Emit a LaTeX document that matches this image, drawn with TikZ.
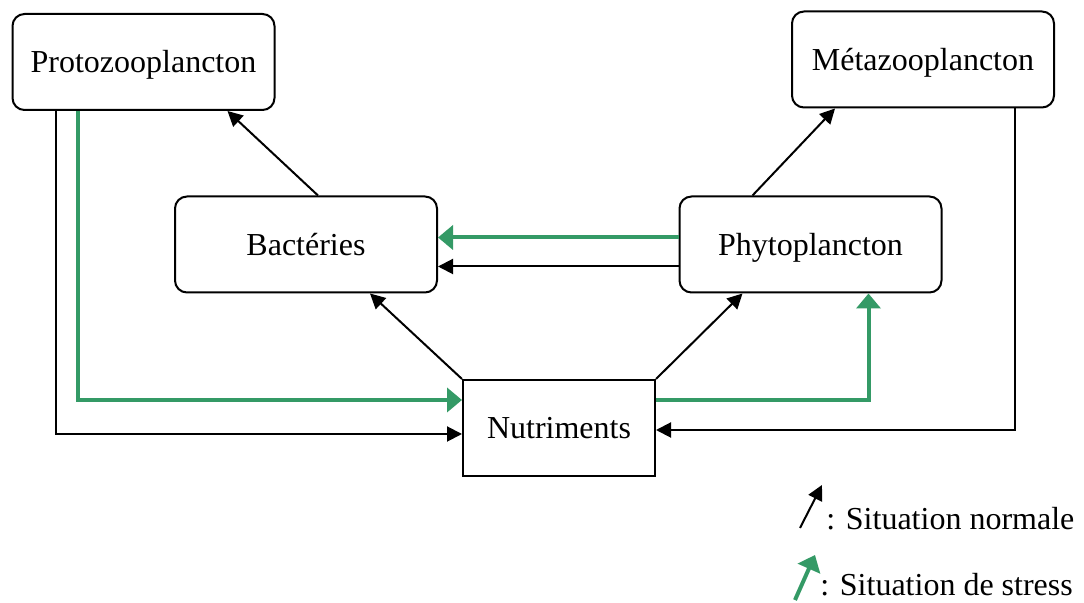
\documentclass[tikz,border=0pt]{standalone}
\usepackage{fontspec}
\setmainfont{Liberation Serif}
\usetikzlibrary{arrows.meta,positioning}

\definecolor{stressgreen}{RGB}{52,154,102}

\begin{document}
\begin{tikzpicture}[x=0.5pt,y=-0.5pt,
    >={Triangle[length=7.5pt,width=7.5pt]},
    every node/.style={font=\fontsize{16}{19}\selectfont},
    box/.style={draw,line width=1pt,rounded corners=6pt,minimum width=131pt,minimum height=48pt,
        text height=10.6pt,text depth=0pt},
    nutbox/.style={draw,line width=1pt,minimum width=96pt,minimum height=48pt,
        text height=10.6pt,text depth=0pt},
    normal/.style={->,line width=1pt},
    stress/.style={->,line width=2pt,stressgreen,>={Triangle[length=7.5pt,width=12pt]}}]

    \useasboundingbox (0,0) rectangle (1084,603);

    \node[box] (proto) at (143.5,62) {Protozooplancton};
    \node[box] (meta) at (923,59.5) {Métazooplancton};
    \node[box] (bact) at (306,244.5) {Bactéries};
    \node[box] (phyto) at (810.5,244.5) {Phytoplancton};
    \node[nutbox] (nutr) at (559,428) {Nutriments};

    \path[normal] ([xshift=6pt]bact.north) edge ([xshift=42pt]proto.south)
                  ([xshift=-29pt]phyto.north) edge ([xshift=-44pt]meta.south)
                  ([yshift=-11pt]phyto.west) edge ([yshift=-11pt]bact.east)
                  (nutr.north west) edge ([xshift=32pt]bact.south)
                  (nutr.north east) edge ([xshift=-34pt]phyto.south);
    \draw[normal] ([xshift=-44pt]proto.south) |- ([yshift=-3pt]nutr.west);
    \draw[normal] ([xshift=46pt]meta.south) |- ([yshift=-1pt]nutr.east);

    \draw[stress] ([yshift=3.5pt]phyto.west) -- ([yshift=3.5pt]bact.east);
    \draw[stress] ([xshift=-33pt]proto.south) |- ([yshift=14pt]nutr.west);
    \draw[stress] ([yshift=14pt]nutr.east) -| ([xshift=29pt]phyto.south);

    % legend
    \coordinate (n0) at (800,528);
    \coordinate (n1) at (822,485);
    \coordinate (s0) at (795,600);
    \coordinate (s1) at (815,555);
    \draw[normal] (n0) -- (n1);
    \draw[stress] (s0) -- (s1);
    \node[anchor=west,inner sep=0pt] (lnormal) at (826,519) {: Situation normale};
    \node[anchor=west,inner sep=0pt] (lstress) at (820,585) {: Situation de stress};
\end{tikzpicture}
\end{document}
